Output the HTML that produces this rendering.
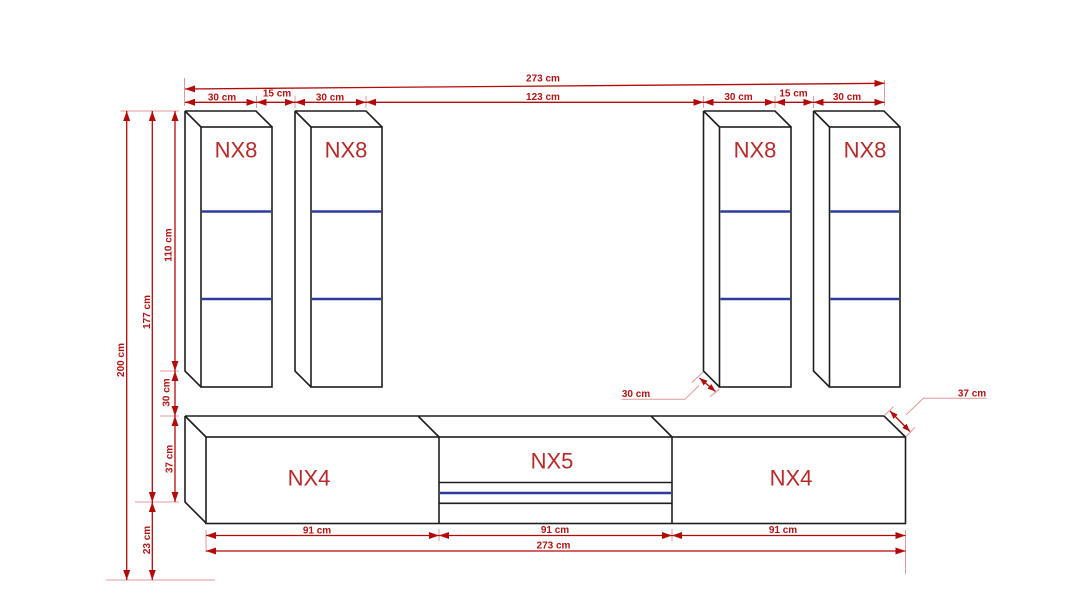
<!DOCTYPE html>
<html><head><meta charset="utf-8"><style>
html,body{margin:0;padding:0;background:#fff;}
svg{display:block;}
.b{fill:none;stroke:#1e1e1e;stroke-width:1.6;stroke-linejoin:miter;}
.sh{stroke:#2b3c9c;stroke-width:2.6;}
.d{stroke:#b30a0a;stroke-width:1.3;fill:none;}
.e{stroke:#e09a9a;stroke-width:1;fill:none;}
.t{font-family:"Liberation Sans",sans-serif;font-weight:bold;font-size:10px;fill:#b01515;text-anchor:middle;}
.n{font-family:"Liberation Sans",sans-serif;font-size:22px;fill:#b52a2a;text-anchor:middle;}
</style></head><body>
<svg width="1090" height="613" viewBox="0 0 1090 613" xmlns="http://www.w3.org/2000/svg">
<defs>
<marker id="a" markerUnits="userSpaceOnUse" markerWidth="11" markerHeight="8" refX="10" refY="3.5" orient="auto-start-reverse">
<path d="M0,0 L10,3.5 L0,7 z" fill="#b30a0a"/>
</marker>
<marker id="s" markerUnits="userSpaceOnUse" markerWidth="9" markerHeight="7" refX="8" refY="3" orient="auto-start-reverse">
<path d="M0,0 L8,3 L0,6 z" fill="#b30a0a"/>
</marker>
</defs>

<!-- ===== Wall cabinets NX8 ===== -->
<g>
<path class="b" d="M185,111 L256,111 L272,127 M185,111 L201,127 M185,111 L185,371 L201,387"/>
<rect class="b" x="201" y="127" width="71" height="260"/>
<line class="sh" x1="202" y1="211.5" x2="271" y2="211.5"/>
<line class="sh" x1="202" y1="299" x2="271" y2="299"/>
<text class="n" x="236" y="157.5">NX8</text>
</g>
<g>
<path class="b" d="M295,111 L366,111 L382,127 M295,111 L311,127 M295,111 L295,371 L311,387"/>
<rect class="b" x="311" y="127" width="71" height="260"/>
<line class="sh" x1="312" y1="211.5" x2="381" y2="211.5"/>
<line class="sh" x1="312" y1="299" x2="381" y2="299"/>
<text class="n" x="346" y="157.5">NX8</text>
</g>
<g>
<path class="b" d="M703.5,111 L775,111 L791,127 M703.5,111 L719.5,127 M703.5,111 L703.5,371 L719.5,387"/>
<rect class="b" x="719.5" y="127" width="71.5" height="260"/>
<line class="sh" x1="720.5" y1="211.5" x2="790" y2="211.5"/>
<line class="sh" x1="720.5" y1="299" x2="790" y2="299"/>
<text class="n" x="755" y="157.5">NX8</text>
</g>
<g>
<path class="b" d="M813.5,111 L884,111 L900,127 M813.5,111 L829.5,127 M813.5,111 L813.5,371 L829.5,387"/>
<rect class="b" x="829.5" y="127" width="70.5" height="260"/>
<line class="sh" x1="830.5" y1="211.5" x2="899" y2="211.5"/>
<line class="sh" x1="830.5" y1="299" x2="899" y2="299"/>
<text class="n" x="865" y="157.5">NX8</text>
</g>

<!-- ===== Lowboard ===== -->
<path class="b" d="M185,416 L884,416 L905.5,437 M185,416 L206,437 M185,416 L185,502 L206,523 M418,416 L439,437 M651,416 L672,437"/>
<rect class="b" x="206" y="437" width="699.5" height="86.5"/>
<line class="b" x1="439" y1="437" x2="439" y2="523.5"/>
<line class="b" x1="672" y1="437" x2="672" y2="523.5"/>
<line class="b" x1="439" y1="482.5" x2="672" y2="482.5"/>
<line class="b" x1="439" y1="503.3" x2="672" y2="503.3"/>
<line class="sh" x1="440" y1="493" x2="671" y2="493"/>
<text class="n" x="309" y="485.5">NX4</text>
<text class="n" x="552" y="468.5">NX5</text>
<text class="n" x="791" y="485.5">NX4</text>

<!-- ===== Top dimensions ===== -->
<line class="e" x1="184.5" y1="78" x2="184.5" y2="106"/>
<line class="e" x1="884.5" y1="80" x2="884.5" y2="106"/>
<line class="e" x1="256.5" y1="96" x2="256.5" y2="108"/>
<line class="e" x1="295" y1="96" x2="295" y2="108"/>
<line class="e" x1="366" y1="96" x2="366" y2="108"/>
<line class="e" x1="703.5" y1="96" x2="703.5" y2="108"/>
<line class="e" x1="775" y1="96" x2="775" y2="108"/>
<line class="e" x1="813.5" y1="96" x2="813.5" y2="108"/>

<line class="d" x1="185" y1="89" x2="884.5" y2="83.3" marker-start="url(#a)" marker-end="url(#a)"/>
<text class="t" x="543" y="81.7">273 cm</text>

<line class="d" x1="185" y1="102.3" x2="256.5" y2="102.3" marker-start="url(#a)" marker-end="url(#a)"/>
<line class="d" x1="256.5" y1="102.3" x2="295" y2="102.3" marker-start="url(#a)" marker-end="url(#a)"/>
<line class="d" x1="295" y1="102.3" x2="366" y2="102.3" marker-start="url(#a)" marker-end="url(#a)"/>
<line class="d" x1="366" y1="102.3" x2="703.5" y2="102.3" marker-start="url(#a)" marker-end="url(#a)"/>
<line class="d" x1="703.5" y1="102.3" x2="775" y2="102.3" marker-start="url(#a)" marker-end="url(#a)"/>
<line class="d" x1="775" y1="102.3" x2="813.5" y2="102.3" marker-start="url(#a)" marker-end="url(#a)"/>
<line class="d" x1="813.5" y1="102.3" x2="884.5" y2="102.3" marker-start="url(#a)" marker-end="url(#a)"/>
<text class="t" x="222" y="100.5">30 cm</text>
<text class="t" x="277" y="96.7">15 cm</text>
<text class="t" x="330" y="100.5">30 cm</text>
<text class="t" x="543" y="99.8">123 cm</text>
<text class="t" x="738.5" y="100">30 cm</text>
<text class="t" x="793.5" y="96.7">15 cm</text>
<text class="t" x="847" y="100">30 cm</text>

<!-- ===== Left vertical dimensions ===== -->
<line class="e" x1="120.5" y1="111" x2="179" y2="111"/>
<line class="e" x1="160" y1="371" x2="179" y2="371"/>
<line class="e" x1="160" y1="416" x2="179" y2="416"/>
<line class="e" x1="135" y1="502" x2="179" y2="502"/>
<line class="e" x1="106" y1="580" x2="215" y2="580"/>

<line class="d" x1="126.7" y1="111" x2="126.7" y2="580" marker-start="url(#a)" marker-end="url(#a)"/>
<line class="d" x1="152.3" y1="111" x2="152.3" y2="502" marker-start="url(#a)" marker-end="url(#a)"/>
<line class="d" x1="152.3" y1="502" x2="152.3" y2="580" marker-start="url(#a)" marker-end="url(#a)"/>
<line class="d" x1="175" y1="111" x2="175" y2="371" marker-start="url(#a)" marker-end="url(#a)"/>
<line class="d" x1="175" y1="371" x2="175" y2="416" marker-start="url(#a)" marker-end="url(#a)"/>
<line class="d" x1="175" y1="416" x2="175" y2="502" marker-start="url(#a)" marker-end="url(#a)"/>

<text class="t" transform="translate(124,360) rotate(-90)">200 cm</text>
<text class="t" transform="translate(150,312) rotate(-90)">177 cm</text>
<text class="t" transform="translate(171.7,245) rotate(-90)">110 cm</text>
<text class="t" transform="translate(169.3,392.5) rotate(-90)">30 cm</text>
<text class="t" transform="translate(172.3,459) rotate(-90)">37 cm</text>
<text class="t" transform="translate(150,540) rotate(-90)">23 cm</text>

<!-- ===== Bottom dimensions ===== -->
<line class="e" x1="206" y1="530" x2="206" y2="552"/>
<line class="e" x1="439" y1="529" x2="439" y2="541"/>
<line class="e" x1="672" y1="529" x2="672" y2="541"/>
<line class="e" x1="905.5" y1="530" x2="905.5" y2="574"/>
<line class="d" x1="206" y1="535.5" x2="439" y2="535.5" marker-start="url(#a)" marker-end="url(#a)"/>
<line class="d" x1="439" y1="535.5" x2="672" y2="535.5" marker-start="url(#a)" marker-end="url(#a)"/>
<line class="d" x1="672" y1="535.5" x2="905.5" y2="535.5" marker-start="url(#a)" marker-end="url(#a)"/>
<line class="d" x1="206" y1="551" x2="905.5" y2="551" marker-start="url(#a)" marker-end="url(#a)"/>
<text class="t" x="317" y="533.3">91 cm</text>
<text class="t" x="555" y="532.8">91 cm</text>
<text class="t" x="783" y="532.8">91 cm</text>
<text class="t" x="553.5" y="548.7">273 cm</text>

<!-- ===== Depth dimensions ===== -->
<line class="e" x1="691.7" y1="382.7" x2="703.3" y2="371.7"/>
<line class="e" x1="710" y1="396.7" x2="719.3" y2="389.3"/>
<polyline class="e" points="621.7,399.3 685,399.3 699,385.5"/>
<line class="d" x1="699.5" y1="378" x2="715.5" y2="391.5" marker-start="url(#s)" marker-end="url(#s)"/>
<text class="t" x="636" y="397">30 cm</text>

<line class="e" x1="885" y1="415" x2="893.3" y2="406.7"/>
<line class="e" x1="906.7" y1="436" x2="915" y2="427.3"/>
<polyline class="e" points="906,415 923.3,398.3 986.7,398.3"/>
<line class="d" x1="890" y1="411" x2="910" y2="431.5" marker-start="url(#s)" marker-end="url(#s)"/>
<text class="t" x="972" y="396.5">37 cm</text>
</svg>
</body></html>
